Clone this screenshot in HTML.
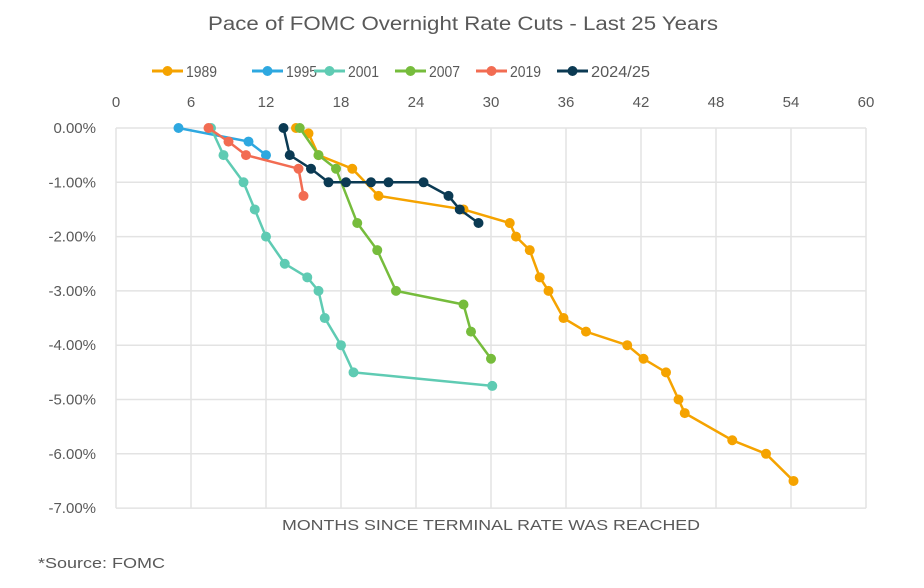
<!DOCTYPE html>
<html><head><meta charset="utf-8"><style>
body{margin:0;background:#fff;}
svg text{font-family:"Liberation Sans",sans-serif;fill:#595959;}
</style></head><body>
<svg id="chart" width="924" height="583" xmlns="http://www.w3.org/2000/svg">
<text x="208" y="30" font-size="19" textLength="510" lengthAdjust="spacingAndGlyphs">Pace of FOMC Overnight Rate Cuts - Last 25 Years</text>
<g id="grid"></g><g id="axes"></g><g id="legend"></g><g id="series"></g>
<text x="282" y="530" font-size="15" textLength="418" lengthAdjust="spacingAndGlyphs">MONTHS SINCE TERMINAL RATE WAS REACHED</text>
<text x="38" y="568" font-size="15" textLength="127" lengthAdjust="spacingAndGlyphs">*Source: FOMC</text>
</svg>
<script>
const xTicks=[0,6,12,18,24,30,36,42,48,54,60];
const yTicks=[0,-1,-2,-3,-4,-5,-6,-7];
const seriesNames=["1989","1995","2001","2007","2019","2024/25"];
const seriesColors=["#F5A300","#2EA8E0","#5FCBB3","#76BC3C","#F26C52","#0B3A53"];
const m1989=[14.4,15.4,16.2,18.9,21.0,27.8,31.5,32.0,33.1,33.9,34.6,35.8,37.6,40.9,42.2,44.0,45.0,45.5,49.3,52.0,54.2];
const r1989=[0,-0.1,-0.5,-0.75,-1.25,-1.5,-1.75,-2,-2.25,-2.75,-3,-3.5,-3.75,-4,-4.25,-4.5,-5,-5.25,-5.75,-6,-6.5];
const m1995=[5.0,10.6,12.0];
const r1995=[0,-0.25,-0.5];
const m2001=[7.6,8.6,10.2,11.1,12.0,13.5,15.3,16.2,16.7,18.0,19.0,30.1];
const r2001=[0,-0.5,-1,-1.5,-2,-2.5,-2.75,-3,-3.5,-4,-4.5,-4.75];
const m2007=[14.7,16.2,17.6,19.3,20.9,22.4,27.8,28.4,30.0];
const r2007=[0,-0.5,-0.75,-1.75,-2.25,-3,-3.25,-3.75,-4.25];
const m2019=[7.4,9.0,10.4,14.6,15.0];
const r2019=[0,-0.25,-0.5,-0.75,-1.25];
const m2024=[13.4,13.9,15.6,17.0,18.4,20.4,21.8,24.6,26.6,27.5,29.0];
const r2024=[0,-0.5,-0.75,-1,-1,-1,-1,-1,-1.25,-1.5,-1.75];
const allM=[m1989,m1995,m2001,m2007,m2019,m2024];
const allR=[r1989,r1995,r2001,r2007,r2019,r2024];
const X=m=>116+m*12.5;
const Y=r=>128-r*54.3;
const NS="http://www.w3.org/2000/svg";
function mk(t,a,p){const e=document.createElementNS(NS,t);for(const k in a)e.setAttribute(k,a[k]);p.appendChild(e);return e;}
const grid=document.getElementById('grid'),axes=document.getElementById('axes'),leg=document.getElementById('legend'),ser=document.getElementById('series');
xTicks.forEach(t=>{
 const l=mk('line',{x1:X(t),x2:X(t),y1:Y(0),y2:Y(-7),stroke:'#e3e3e3','stroke-width':1.5},grid);
 
 
 const tx=mk('text',{x:X(t),y:107,'font-size':15,'text-anchor':'middle'},axes);tx.textContent=t;
 
 
});
yTicks.forEach(t=>{
 const l=mk('line',{x1:X(0),x2:X(60),y1:Y(t),y2:Y(t),stroke:'#e3e3e3','stroke-width':1.5},grid);
 
 
 const tx=mk('text',{x:96,y:Y(t)+5,'font-size':15,'text-anchor':'end'},axes);tx.textContent=(t===0?'0.00%':t.toFixed(2)+'%');
 
 
});
const legX=[152,252,314,395,476,557];
seriesNames.forEach((n,i)=>{
 const g=mk('g',{},leg);
 
 
 mk('line',{x1:legX[i],x2:legX[i]+31,y1:71,y2:71,stroke:seriesColors[i],'stroke-width':3},g);
 mk('circle',{cx:legX[i]+15.5,cy:71,r:5,fill:seriesColors[i]},g);
 const t=mk('text',{x:legX[i]+34,y:77,'font-size':16,textLength:(n.length>4?59:31),lengthAdjust:'spacingAndGlyphs'},g);t.textContent=n;
});
allM.forEach((ms,i)=>{
 const g=mk('g',{},ser);
 
 
 const pts=ms.map((m,j)=>X(m)+','+Y(allR[i][j])).join(' ');
 mk('polyline',{points:pts,fill:'none',stroke:seriesColors[i],'stroke-width':2.5},g);
 ms.forEach((m,j)=>{
  const c=mk('circle',{cx:X(m),cy:Y(allR[i][j]),r:5,fill:seriesColors[i]},g);
  
  
 });
});
</script>
</body></html>
